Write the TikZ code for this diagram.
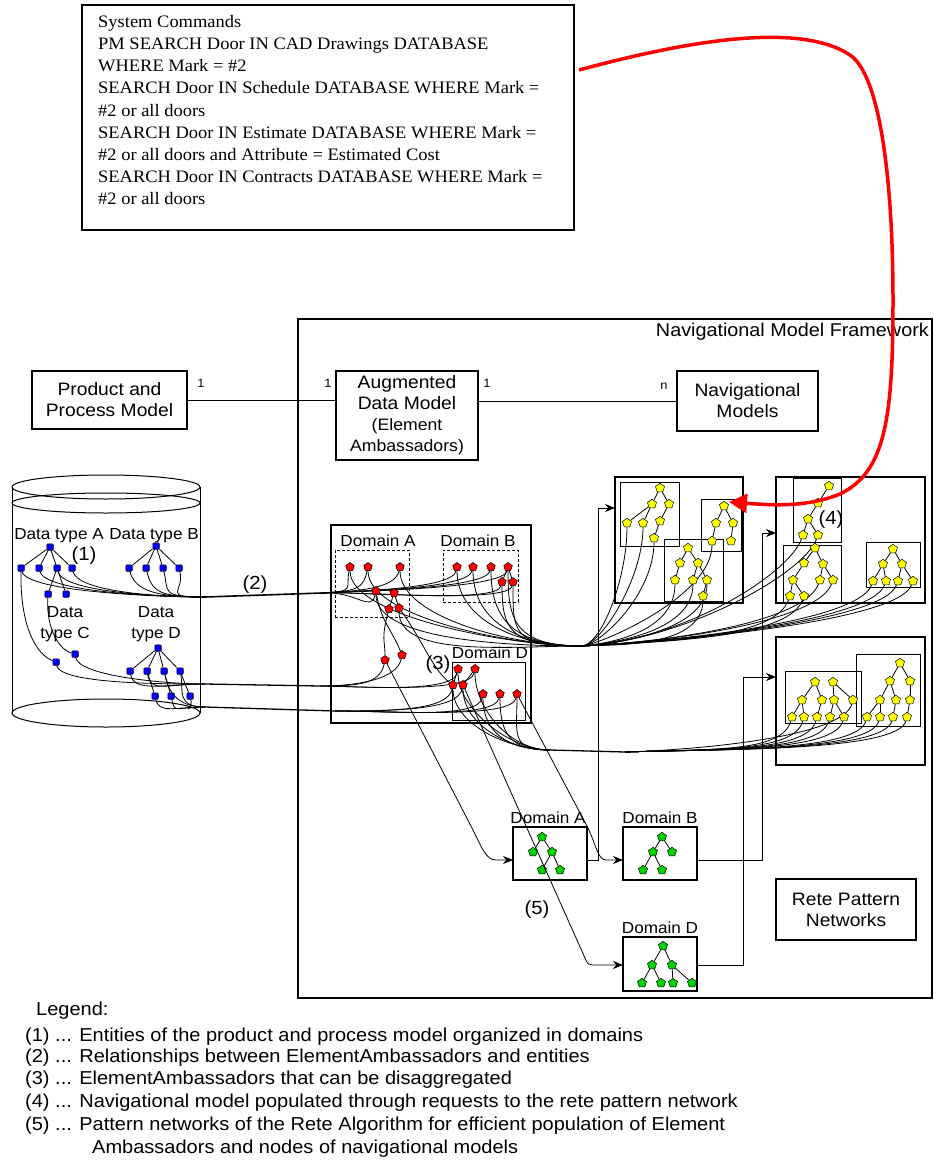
\documentclass[tikz,border=0pt]{standalone}
\usepackage{fontspec}
\setmainfont[FakeStretch=1.07]{Liberation Sans}
\newfontfamily\cmdfont[FakeStretch=1.055]{Liberation Serif}
\usetikzlibrary{shapes.geometric,arrows.meta}
\pgfdeclarelayer{bg}
\pgfsetlayers{bg,main}
\newcommand\fs[2]{\fontsize{#1pt}{#2pt}\selectfont}
% frame given by its top-left and bottom-right corners
\newcommand\drawframe[6][]{\node[frame,#1,minimum width={(#4-#2)*1pt},minimum height={(#5-#3)*1pt}] (#6) at (#2,#3) {};}
\definecolor{entblue}{RGB}{0,0,255}
\definecolor{ambred}{RGB}{255,0,0}
\definecolor{navyel}{RGB}{255,255,0}
\definecolor{retegreen}{RGB}{0,210,0}
\begin{document}
\begin{tikzpicture}[x=1pt,y=-1pt,
  frame/.style={draw,line width=1.1pt,inner sep=0pt,outer sep=0pt,anchor=north west},
  box/.style={draw,line width=1.1pt,inner sep=0pt,align=center,font=\fs{18}{21}},
  conn/.style={line width=0.8pt},
  arr/.style={conn,-{Stealth[length=10pt,width=8pt]}},
  bn/.style={draw=black,fill=entblue,rectangle,rounded corners=1pt,minimum size=6.5pt,inner sep=0pt,line width=0.5pt},
  rn/.style={draw=black,fill=ambred,regular polygon,regular polygon sides=5,minimum size=9pt,inner sep=0pt,line width=0.5pt},
  yn/.style={draw=black,fill=navyel,regular polygon,regular polygon sides=5,minimum size=9.5pt,inner sep=0pt,line width=0.5pt},
  gn/.style={draw=black,fill=retegreen,regular polygon,regular polygon sides=5,minimum size=9.5pt,inner sep=0pt,line width=0.5pt},
  lab/.style={inner sep=0pt,font=\fs{16}{21}},
  num/.style={inner sep=0pt,font=\fs{19}{22}},
  mult/.style={inner sep=0pt,font=\fs{12}{14}},
  leg/.style={inner sep=0pt,anchor=west,font=\fs{18.7}{21}}
]
\useasboundingbox (0,0) rectangle (934,1162);

% ---------- system commands ----------
\drawframe{82}{5}{574}{230}{cmd}
\node[anchor=north west,align=left,inner sep=0pt,font=\cmdfont\fs{17.5}{22.2}] (cmdtxt) at (98,15)
  {System Commands\\
   PM SEARCH Door IN CAD Drawings DATABASE\\
   WHERE Mark = \#2\\
   SEARCH Door IN Schedule DATABASE WHERE Mark =\\
   \#2 or all doors\\
   SEARCH Door IN Estimate DATABASE WHERE Mark =\\
   \#2 or all doors and Attribute = Estimated Cost\\
   SEARCH Door IN Contracts DATABASE WHERE Mark =\\
   \#2 or all doors};

% ---------- framework ----------
\drawframe{298}{319}{932}{998}{nmf}
\node[anchor=east,inner sep=0pt,font=\fs{18.5}{22}] (nmft) at (929,332) {Navigational Model Framework};

\node[box,minimum width=155pt,minimum height=58pt] (ppm) at (109.5,400) {Product and\\Process Model};
\node[box,minimum width=142pt,minimum height=89pt] (adm) at (407,415.5) {Augmented\\Data Model\\{\fs{16.5}{21}(Element}\\{\fs{16.5}{21}Ambassadors)}};
\node[box,minimum width=141pt,minimum height=60pt] (nav) at (747.5,401) {Navigational\\Models};
\node[box,minimum width=140pt,minimum height=61pt] (rete) at (846,909.5) {Rete Pattern\\Networks};

\draw[conn] (ppm.east) -- (ppm.east -| adm.west);
\draw[conn] (nav.west -| adm.east) -- (nav.west);
\node[mult] (m1) at (201,383) {1};
\node[mult] (m2) at (328,383) {1};
\node[mult] (m3) at (487,383) {1};
\node[mult] (m4) at (664,386) {n};

% ---------- database cylinder ----------
\draw[line width=1pt] (106,487) ellipse [x radius=94pt,y radius=12pt];
\draw[line width=1pt] (106,503) ellipse [x radius=94pt,y radius=10pt];
\draw[line width=1pt] (106,713) ellipse [x radius=94pt,y radius=14pt];
\draw[line width=1pt] (12,487) -- (12,713);
\draw[line width=1pt] (200,487) -- (200,713);

\node[lab] (ltA) at (59,536) {Data type A};
\node[lab] (ltB) at (154,536) {Data type B};
\node[lab,align=center] (ltC) at (65,624) {Data\\type C};
\node[lab,align=center] (ltD) at (156,624) {Data\\type D};

\foreach \n/\x/\y in {A0/50/547,A1/21/568,A2/39/568,A3/57/568,A4/72/568,C1/48/594,C2/66/594,
  C3/56/662,C4/75/654,B0/156/546,B1/129/568,B2/146/568,B3/163/568,B4/179/568,
  D0/158/648,D1/130/671,D2/147/671,D3/164/671,D4/180/671,D5/155/696,D6/171/696,D7/190/696}
  \node[bn] (\n) at (\x,\y) {};

% ---------- element ambassadors ----------
\drawframe{331}{525}{531}{723}{amb}
\drawframe[densely dashed,line width=0.8pt]{335}{550}{409}{617}{dmA}
\drawframe[densely dashed,line width=0.8pt]{443}{550}{518}{602}{dmB}
\drawframe[line width=0.8pt]{452}{662}{525}{720}{dmD}
\node[lab] (ldA) at (378,541) {Domain A};
\node[lab] (ldB) at (478,541) {Domain B};
\node[lab] (ldD) at (490,653) {Domain D};

\foreach \n/\x/\y in {ra1/350/567,ra2/368/567,ra3/400/567,ra4/376/591,ra5/394/593,ra6/389/609,ra7/399/608,
  rb1/457/567,rb2/473/567,rb3/491/567,rb4/508/567,rb5/502/582,rb6/513/582,
  rm1/385/660,rm2/402/655,rd1/458/669,rd2/475/669,rd3/453/685,rd4/463/685,rd5/483/694,rd6/500/694,rd7/517/694}
  \node[rn] (\n) at (\x,\y) {};

% ---------- navigational models ----------
\drawframe{615}{477}{743}{603}{NMa}
\drawframe[line width=0.8pt]{620}{482}{679}{546}{Ia}
\drawframe[line width=0.8pt]{701}{499}{741}{551}{Ib}
\drawframe[line width=0.8pt]{664}{539}{723}{601}{Ic}
\drawframe{776}{477}{925}{603}{NMb}
\drawframe[line width=0.8pt]{793}{478}{841}{542}{Ja}
\drawframe[line width=0.8pt]{783}{545}{841}{602}{Jb}
\drawframe[line width=0.8pt]{866}{542}{920}{587}{Jc}
\drawframe{776}{637}{925}{765}{NMc}
\drawframe[line width=0.8pt]{785}{671}{861}{723}{Ka}
\drawframe[line width=0.8pt]{856}{654}{920}{726}{Kb}

\foreach \n/\x/\y in {ya0/660/488,ya1/652/504,ya2/669/504,ya3/627/523,ya4/643/523,ya5/660/521,ya6/654/538,
  yb0/724/506,yb1/716/523,yb2/733/523,yb3/712/541,yb4/731/541,
  yc0/688/548,yc1/680/563,yc2/698/563,yc3/675/580,yc4/693/580,yc5/707/580,yc6/703/596,
  yd0/829/486,yd1/818/503,yd2/808/519,yd3/803/535,yd4/818/535,
  ye0/815/548,ye1/804/563,ye2/823/564,ye3/793/580,ye4/820/580,ye5/833/580,ye6/790/596,ye7/804/596,
  yf0/893/549,yf1/883/564,yf2/902/564,yf3/873/581,yf4/886/581,yf5/898/581,yf6/913/581,
  yg0/815/682,yg1/833/682,yg2/802/700,yg3/822/700,yg4/834/700,yg5/853/700,yg6/792/717,yg7/804/717,yg8/817/717,yg9/830/717,yg10/844/717,
  yh0/900/663,yh1/890/681,yh2/910/681,yh3/880/700,yh4/896/700,yh5/910/700,yh6/867/717,yh7/880/717,yh8/893/717,yh9/907/717}
  \node[yn] (\n) at (\x,\y) {};

% ---------- rete pattern networks ----------
\drawframe{513}{827}{587}{880}{gA}
\drawframe{623}{827}{697}{880}{gB}
\drawframe{623}{937}{697}{991}{gD}
\node[lab] (lgA) at (548,818) {Domain A};
\node[lab] (lgB) at (660,818) {Domain B};
\node[lab] (lgD) at (660,928) {Domain D};
\foreach \n/\x/\y in {ga0/542/837,ga1/533/852,ga2/552/852,ga3/542/870,ga4/560/870,
  gb0/662/837,gb1/653/852,gb2/672/852,gb3/643/870,gb4/662/870,
  gd0/663/946,gd1/652/965,gd2/672/965,gd3/642/983,gd4/661/983,gd5/673/983,gd6/692/983}
  \node[gn] (\n) at (\x,\y) {};

% ---------- numbered markers ----------
\node[num] (n1) at (84,556) {(1)};
\node[num] (n2) at (255,585) {(2)};
\node[num] (n3) at (438,665) {(3)};
\node[num] (n4) at (831,520) {(4)};
\node[num] (n5) at (537,910) {(5)};

% ---------- hubs where relationship lines bundle ----------
\coordinate (h2a) at (205,597);
\coordinate (h2b) at (322,593);
\coordinate (hN) at (582,646);
\coordinate (hC) at (205,684);
\coordinate (hC2) at (320,686);
\coordinate (hD) at (205,707);
\coordinate (hD2) at (335,711);
\coordinate (h5) at (550,750);
\coordinate (h5b) at (625,752);

\begin{pgfonlayer}{bg}
  % tree edges
  \foreach \a/\b in {A0/A1,A0/A2,A0/A3,A0/A4,A3/C1,A3/C2,B0/B1,B0/B2,B0/B3,B0/B4,
    D0/D1,D0/D2,D0/D3,D0/D4,D2/D5,D3/D6,D4/D7,
    ra5/ra6,ra5/ra7,rb4/rb5,rb4/rb6,rd1/rd3,rd2/rd4,
    ya0/ya1,ya0/ya2,ya1/ya3,ya1/ya4,ya2/ya5,ya5/ya6,
    yb0/yb1,yb0/yb2,yb1/yb3,yb2/yb4,
    yc0/yc1,yc0/yc2,yc1/yc3,yc2/yc4,yc2/yc5,yc5/yc6,
    yd0/yd1,yd1/yd2,yd2/yd3,yd2/yd4,
    ye0/ye1,ye0/ye2,ye1/ye3,ye2/ye4,ye2/ye5,ye3/ye6,ye3/ye7,
    yf0/yf1,yf0/yf2,yf1/yf3,yf1/yf4,yf2/yf5,yf2/yf6,
    yg0/yg2,yg0/yg3,yg2/yg6,yg2/yg7,yg3/yg8,yg1/yg4,yg1/yg5,yg4/yg9,yg4/yg10,
    yh0/yh1,yh0/yh2,yh1/yh3,yh1/yh4,yh2/yh5,yh3/yh6,yh3/yh7,yh4/yh8,yh5/yh9,
    ga0/ga1,ga0/ga2,ga2/ga3,ga2/ga4,gb0/gb1,gb0/gb2,gb1/gb3,gb1/gb4,
    gd0/gd1,gd0/gd2,gd1/gd3,gd1/gd4,gd2/gd5,gd2/gd6}
    \draw[conn] (\a) -- (\b);
  \draw[conn] (A1) .. controls (20,630) and (38,655) .. (C3);
  \draw[conn] (C1) .. controls (46,630) and (60,650) .. (C4);

  % (2) entities to element ambassadors
  \foreach \s in {A1,A2,A3,A4,B1,B2,B3,B4}
    \draw[conn] (\s) .. controls +(6,24) and +(-45,0) .. (h2a);
  \draw[line width=1.6pt] (h2a) -- (h2b);
  \foreach \t in {ra1,ra2,ra3,ra4,rb1,rb2,rb3,rb4,rb5,rb6}
    \draw[conn] (h2b) .. controls +(35,-2) and +(-5,22) .. (\t);

  \foreach \s in {C3,C4,D1,D2}
    \draw[conn] (\s) .. controls +(4,22) and +(-40,0) .. (hC);
  \foreach \s in {D3,D4,D5,D6,D7}
    \draw[conn] (\s) .. controls +(4,18) and +(-30,0) .. (hD);
  \draw[line width=1.3pt] (hC) -- (hC2);
  \draw[line width=1.3pt] (hD) -- (hD2);
  \foreach \t in {rm1,rm2,rd1,rd2}
    \draw[conn] (hC2) .. controls +(35,0) and +(-5,25) .. (\t);
  \foreach \t in {rd3,rd4,rd5,rd6,rd7}
    \draw[conn] (hD2) .. controls +(60,0) and +(-5,25) .. (\t);

  % (3) disaggregation
  \draw[conn] (ra6) .. controls +(-8,30) and +(0,-20) .. (rm1);
  \draw[conn] (ra4) .. controls +(5,30) and +(-10,-25) .. (rm2);
  \draw[conn] (ra7) .. controls +(25,35) and +(-20,-15) .. (rd3);

  % (4) element ambassadors to navigational models
  \foreach \s in {ra1,ra2,ra3,ra4,ra7,rb1,rb2,rb3,rb4,rb5,rb6}
    \draw[conn] (\s) .. controls +(0,50) and +(-70,0) .. (hN);
  \foreach \t in {ya3,ya4,ya6,yb3,yc3,yc4,yc5,yc6}
    \draw[conn] (hN) .. controls +(20,-2) and +(0,55) .. (\t);
  \foreach \t in {yd3,yd4,ye4,ye5,ye6,ye7,yf3,yf4,yf5,yf6}
    \draw[conn] (hN) .. controls +(100,-5) and +(-15,40) .. (\t);
  \foreach \s in {rd1,rd2,rd3,rd4,rd5,rd6,rd7}
    \draw[conn] (\s) .. controls +(0,40) and +(-40,0) .. (h5);
  \draw[line width=1.3pt] (h5) -- (h5b);
  \foreach \t in {yg5,yg6,yg7,yg8,yg9,yg10,yh6,yh7,yh8,yh9}
    \draw[conn] (h5b) .. controls +(90,-3) and +(-10,35) .. (\t);
\end{pgfonlayer}

% (5) pattern networks
\draw[arr] (rm1) -- (472,828) .. controls (482,848) and (486,860) .. (496,860) -- ([yshift=-6.5pt]gA.west);
\draw[arr] (rd7) -- (588,828) .. controls (596,845) and (598,860) .. (606,860) -- ([yshift=-6.5pt]gB.west);
\draw[arr] (rd4) -- (585,958) .. controls (588,965) .. (598,965) -- ([yshift=-1pt]gD.west);
\draw[arr] ([yshift=-6.5pt]gA.east) -- ++(11,0) |- ([yshift=32pt]NMa.west);
\draw[arr] ([yshift=-6.5pt]gB.east) -- ++(65,0) |- ([yshift=7pt]NMb.west);
\draw[arr] ([yshift=-1pt]gD.east) -- ++(46,0) |- ([yshift=24pt]NMc.west);

% ---------- legend ----------
\node[leg] (lg0) at (36,1011) {Legend:};
\node[leg] (lg1) at (25,1037) {(1) ... Entities of the product and process model organized in domains};
\node[leg] (lg2) at (25,1058) {(2) ... Relationships between ElementAmbassadors and entities};
\node[leg] (lg3) at (25,1080) {(3) ... ElementAmbassadors that can be disaggregated};
\node[leg] (lg4) at (25,1103) {(4) ... Navigational model populated through requests to the rete pattern network};
\node[leg] (lg5) at (25,1126) {(5) ... Pattern networks of the Rete Algorithm for efficient population of Element};
\node[leg] (lg6) at (92,1149) {Ambassadors and nodes of navigational models};

% ---------- command request arrow ----------
\coordinate (rqs) at (579,70);
\draw[ambred,line width=3.5pt,-{Triangle[length=18pt,width=19pt]}]
  (rqs) .. controls (690,40) and (800,22) .. (850,55)
        .. controls (880,75) and (893,180) .. (893,300)
        .. controls (893,420) and (885,472) .. (840,494)
        .. controls (805,508) and (770,505) .. ([xshift=-12pt,yshift=-3pt]Ib.north east);
\end{tikzpicture}
\end{document}
